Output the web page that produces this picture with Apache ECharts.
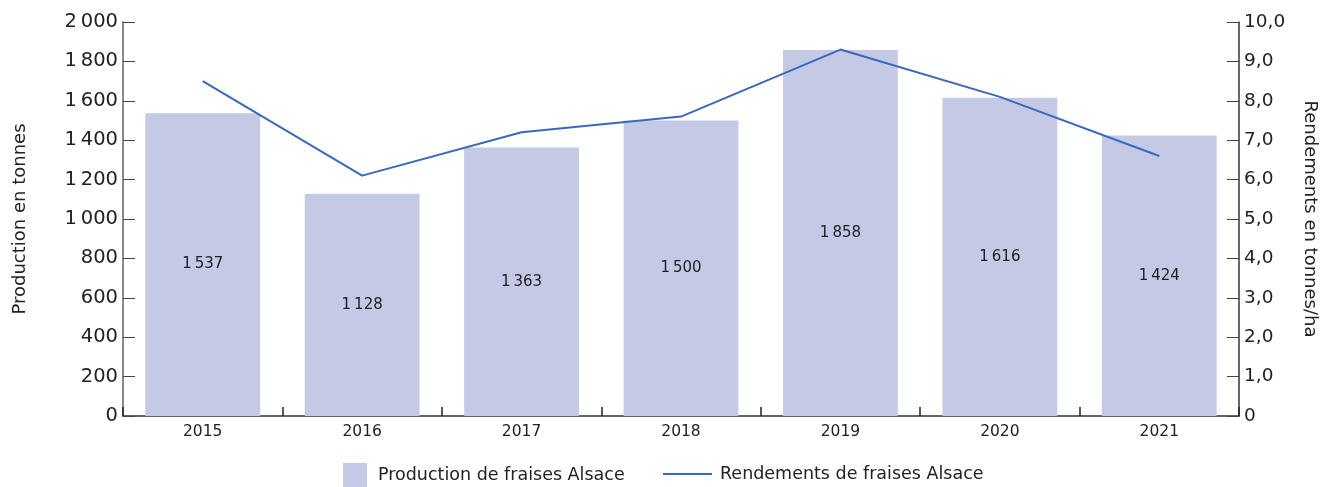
<!DOCTYPE html>
<html>
<head>
<meta charset="utf-8">
<script src="https://cdn.jsdelivr.net/npm/echarts@6/dist/echarts.min.js"></script>
<style>
  html, body { margin: 0; padding: 0; background: #fff; }
  #chart { width: 1322px; height: 487px; }
</style>
</head>
<body>
<div id="chart"></div>
<script>
// données
const years = ['2015', '2016', '2017', '2018', '2019', '2020', '2021'];
const production = [1537, 1128, 1363, 1500, 1858, 1616, 1424];
const rendements = [8.5, 6.1, 7.2, 7.6, 9.3, 8.1, 6.6];

const FONT = 'DejaVu Sans';

// séparateur de milliers à la française
function fmtMilliers(v) {
  return String(v).replace(/\B(?=(\d{3})+(?!\d))/g, '\u202f');
}

const chart = echarts.init(document.getElementById('chart'), null, { renderer: 'canvas' });

const option = {
  animation: false,
  textStyle: { fontFamily: FONT, color: '#222' },
  grid: { left: 123, right: 83, top: 22, bottom: 71, outerBoundsMode: 'none', containLabel: false },
  legend: [
    {
      data: [{ name: 'Production de fraises Alsace', icon: 'rect' }],
      left: 343, top: 463, padding: 0,
      itemWidth: 24, itemHeight: 24, itemGap: 10,
      textStyle: { fontFamily: FONT, fontSize: 17.5, color: '#222', padding: [0, 0, 0, 6] }
    },
    {
      data: [{ name: 'Rendements de fraises Alsace', icon: 'rect' }],
      left: 663, top: 465, padding: 0,
      itemWidth: 49, itemHeight: 2, itemGap: 8,
      textStyle: { fontFamily: FONT, fontSize: 17.5, color: '#222', padding: [0, 0, 0, 3] }
    }
  ],
  xAxis: {
    type: 'category',
    data: years,
    axisLine: { lineStyle: { color: '#333', width: 1.5 } },
    axisTick: { show: true, inside: true, length: 9, lineStyle: { color: '#222', width: 1.5 } },
    axisLabel: { fontSize: 15.5, color: '#222', margin: 8 }
  },
  yAxis: [
    {
      type: 'value',
      min: 0, max: 2000, interval: 200,
      name: 'Production en tonnes',
      nameLocation: 'middle',
      nameGap: 94,
      nameTextStyle: { fontSize: 18, color: '#222' },
      axisLine: { show: true, lineStyle: { color: '#888', width: 2 } },
      axisTick: { show: true, inside: true, length: 12, lineStyle: { color: '#444' } },
      axisLabel: { fontSize: 19.5, color: '#222', margin: 5, formatter: fmtMilliers },
      splitLine: { show: false }
    },
    {
      type: 'value',
      min: 0, max: 10, interval: 1,
      position: 'right',
      name: 'Rendements en tonnes/ha',
      nameLocation: 'middle',
      nameGap: 62,
      nameRotate: -90,
      nameTextStyle: { fontSize: 18, color: '#222' },
      axisLine: { show: true, lineStyle: { color: '#333', width: 1.5 } },
      axisTick: { show: true, inside: true, length: 12, lineStyle: { color: '#444' } },
      axisLabel: {
        fontSize: 18.5, color: '#222', margin: 5,
        formatter: v => v === 0 ? '0' : v.toFixed(1).replace('.', ',')
      },
      splitLine: { show: false }
    }
  ],
  series: [
    {
      name: 'Production de fraises Alsace',
      type: 'bar',
      data: production,
      barWidth: '72%',
      itemStyle: { color: '#c4c9e5' },
      label: {
        show: true,
        position: 'inside',
        fontSize: 15,
        color: '#222',
        formatter: p => fmtMilliers(p.value)
      }
    },
    {
      name: 'Rendements de fraises Alsace',
      type: 'line',
      yAxisIndex: 1,
      data: rendements,
      symbol: 'none',
      lineStyle: { color: '#3a68bc', width: 2 },
      itemStyle: { color: '#3a68bc' },
      z: 5
    }
  ]
};

chart.setOption(option);
</script>
</body>
</html>
